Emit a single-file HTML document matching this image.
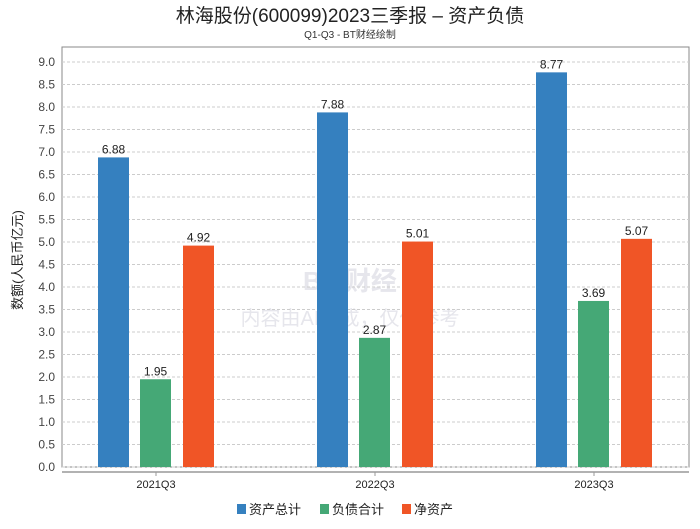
<!DOCTYPE html>
<html><head><meta charset="utf-8"><style>
body{margin:0;background:#fff;font-family:"Liberation Sans","Noto Sans CJK SC",sans-serif;}
svg text{font-family:"Liberation Sans","Noto Sans CJK SC",sans-serif;}
</style></head><body>
<svg id="c" width="700" height="524" xmlns="http://www.w3.org/2000/svg">
<text x="350" y="22" text-anchor="middle" font-size="19" fill="#222">林海股份(600099)2023三季报 – 资产负债</text>
<text x="350" y="38" text-anchor="middle" font-size="10" fill="#333">Q1-Q3 - BT财经绘制</text>
<rect x="62" y="47" width="627" height="420" fill="none" stroke="#888"/>
<line x1="62" y1="472" x2="689" y2="472" stroke="#999" stroke-width="1.5"/>
<text x="350" y="290" text-anchor="middle" font-size="26" fill="#e6e6ec" font-weight="bold">BT 财经</text>
<text x="350" y="325" text-anchor="middle" font-size="20" fill="#e6e6ec">内容由AI生成，仅供参考</text>
<text transform="translate(22,260) rotate(-90)" text-anchor="middle" font-size="13" fill="#222">数额(人民币亿元)</text>
<g id="grid"></g><g id="bars"></g>
<g>
<rect x="237" y="504" width="9" height="10" fill="#3580bf"/>
<text x="249" y="514" font-size="13" fill="#222">资产总计</text>
<rect x="320" y="504" width="9" height="10" fill="#45a876"/>
<text x="332" y="514" font-size="13" fill="#222">负债合计</text>
<rect x="402" y="504" width="9" height="10" fill="#f05526"/>
<text x="414" y="514" font-size="13" fill="#222">净资产</text>
</g>
</svg>
<script>
const categories=["2021Q3","2022Q3","2023Q3"];
const assets=[6.88,7.88,8.77];
const liabilities=[1.95,2.87,3.69];
const equity=[4.92,5.01,5.07];
const yTicks=[0,0.5,1,1.5,2,2.5,3,3.5,4,4.5,5,5.5,6,6.5,7,7.5,8,8.5,9];
const NS="http://www.w3.org/2000/svg";
const y0=467,y9=62;
function y(v){return y0-(v/9)*(y0-y9);}
function xc(i){return 156+i*219;}
const grid=document.getElementById('grid'),bars=document.getElementById('bars');
function mk(tag,attrs,p){const e=document.createElementNS(NS,tag);for(const k in attrs)e.setAttribute(k,attrs[k]);p.appendChild(e);return e;}
yTicks.forEach(t=>{
  const l=mk('line',{x1:62,x2:689,y1:y(t),y2:y(t),stroke:'#ccc','stroke-dasharray':'3,2'},grid);
  
  
  const tx=mk('text',{x:55,y:y(t)+4,'text-anchor':'end','font-size':12,fill:'#444'},grid);
  tx.textContent=t.toFixed(1);
  
  
});
const series=[[assets,'#3580bf',-58],[liabilities,'#45a876',-16],[equity,'#f05526',27]];
categories.forEach((c,i)=>{
  const tk=mk('line',{x1:xc(i),x2:xc(i),y1:472,y2:476,stroke:'#999'},grid);
  
  
  const lb=mk('text',{x:xc(i),y:488,'text-anchor':'middle','font-size':11,fill:'#222'},grid);
  lb.textContent=c;
  
  
  series.forEach(([arr,col,off])=>{
    const v=arr[i];
    const r=mk('rect',{x:xc(i)+off,y:y(v),width:31,height:y0-y(v),fill:col},bars);
    
    
    const t=mk('text',{x:xc(i)+off+15.5,y:y(v)-4,'text-anchor':'middle','font-size':12,fill:'#222'},bars);
    t.textContent=v.toFixed(2);
    
    
  });
});
</script>
</body></html>
